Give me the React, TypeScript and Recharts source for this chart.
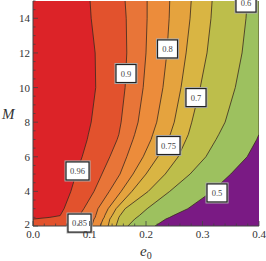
import React from 'react';
import { ComposedChart, Area, XAxis, YAxis, ReferenceArea, ReferenceDot } from 'recharts';

// Mass ratio samples (y axis)
const mValues = [2, 2.4, 2.5, 2.6, 3, 4, 5, 6, 7, 7.3, 8, 10, 12, 14, 15];
// e0 position of each contour at the M samples
const c096 = [0, 0, 0.03, 0.048, 0.055, 0.067, 0.076, 0.087, 0.096, 0.098, 0.103, 0.111, 0.110, 0.103, 0.101];
const c090 = [0.076, 0.079, 0.080, 0.082, 0.090, 0.108, 0.122, 0.136, 0.149, 0.152, 0.156, 0.163, 0.166, 0.165, 0.163];
const c085 = [0.104, 0.108, 0.110, 0.111, 0.115, 0.135, 0.154, 0.166, 0.177, 0.180, 0.186, 0.195, 0.200, 0.202, 0.202];
const c080 = [0.119, 0.124, 0.126, 0.127, 0.133, 0.156, 0.177, 0.195, 0.209, 0.212, 0.219, 0.230, 0.237, 0.241, 0.242];
const c075 = [0.133, 0.136, 0.138, 0.140, 0.147, 0.175, 0.200, 0.221, 0.239, 0.243, 0.250, 0.262, 0.271, 0.278, 0.280];
const c070 = [0.147, 0.151, 0.152, 0.154, 0.163, 0.204, 0.234, 0.257, 0.271, 0.275, 0.281, 0.296, 0.308, 0.315, 0.317];
const c060 = [0.168, 0.180, 0.184, 0.188, 0.202, 0.242, 0.278, 0.306, 0.324, 0.329, 0.340, 0.358, 0.370, 0.377, 0.379];
const c050 = [0.216, 0.235, 0.242, 0.248, 0.274, 0.317, 0.350, 0.379, 0.396, 0.4, 0.4, 0.4, 0.4, 0.4, 0.4];

const contourKeys = ['c050', 'c060', 'c070', 'c075', 'c080', 'c085', 'c090', 'c096'];
const contourFills = ['#9dc15f', '#bdbe4b', '#d9b543', '#e5a33e', '#ec8c3b', '#e87538', '#e2522d', '#dc2328'];

const xMajor = [0, 0.1, 0.2, 0.3, 0.4];
const xTicks = [0, 0.02, 0.04, 0.06, 0.08, 0.1, 0.12, 0.14, 0.16, 0.18, 0.2, 0.22, 0.24, 0.26, 0.28, 0.3, 0.32, 0.34, 0.36, 0.38, 0.4];
const yMajor = [2, 4, 6, 8, 10, 12, 14];
const yTicks = [2, 2.5, 3, 3.5, 4, 4.5, 5, 5.5, 6, 6.5, 7, 7.5, 8, 8.5, 9, 9.5, 10, 10.5, 11, 11.5, 12, 12.5, 13, 13.5, 14, 14.5, 15];

const labelTexts = ['0.96', '0.9', '0.85', '0.8', '0.75', '0.7', '0.6', '0.5'];
const labelE0 = [0.0788, 0.1646, 0.0823, 0.2381, 0.2398, 0.2885, 0.377, 0.3257];
const labelM = [5.18, 10.81, 2.17, 12.23, 6.65, 9.42, 14.88, 3.91];

const data = mValues.map((M, i) => ({
  M,
  c096: c096[i],
  c090: c090[i],
  c085: c085[i],
  c080: c080[i],
  c075: c075[i],
  c070: c070[i],
  c060: c060[i],
  c050: c050[i],
}));

const FONT = 'Liberation Serif';
const serif = { fontFamily: FONT };
const isMajor = (v: number, majors: number[]) => majors.some((m) => Math.abs(m - v) < 1e-9);

const BottomTick = (props: any) => {
  const { x, y, payload } = props;
  const major = isMajor(payload.value, xMajor);
  return (
    <g>
      <line x1={x} x2={x} y1={y} y2={y - (major ? 5 : 2.5)} stroke="#444" strokeWidth={0.8} />
      {major && (
        <text x={x} y={y + 11.5} textAnchor="middle" style={serif} fontSize={11} fill="#333">
          {payload.value.toFixed(1)}
        </text>
      )}
    </g>
  );
};
const TopTick = (props: any) => {
  const { x, y, payload } = props;
  const major = isMajor(payload.value, xMajor);
  return <line x1={x} x2={x} y1={y} y2={y + (major ? 5 : 2.5)} stroke="#444" strokeWidth={0.8} />;
};
const LeftTick = (props: any) => {
  const { x, y, payload } = props;
  const major = isMajor(payload.value, yMajor);
  const dy = payload.value === 2 ? 2 : 4;
  return (
    <g>
      <line x1={x} x2={x + (major ? 5 : 2.5)} y1={y} y2={y} stroke="#444" strokeWidth={0.8} />
      {major && (
        <text x={x - 3} y={y + dy} textAnchor="end" style={serif} fontSize={11} fill="#333">
          {payload.value}
        </text>
      )}
    </g>
  );
};
const RightTick = (props: any) => {
  const { x, y, payload } = props;
  const major = isMajor(payload.value, yMajor);
  return <line x1={x} x2={x - (major ? 5 : 2.5)} y1={y} y2={y} stroke="#444" strokeWidth={0.8} />;
};

const makeLabelShape = (text: string) => (props: any) => {
  const { cx, cy } = props;
  const w = text.length >= 4 ? 23 : 20;
  const h = 18;
  return (
    <g>
      <rect x={cx - w / 2} y={cy - h / 2} width={w} height={h} fill="#fff" stroke="#b0b0b0" strokeWidth={3} />
      <rect x={cx - w / 2} y={cy - h / 2} width={w} height={h} fill="#fff" stroke="#222" strokeWidth={1.2} />
      <text x={cx} y={cy + 3} textAnchor="middle" style={serif} fontSize={8.5} fill="#444">
        {text}
      </text>
    </g>
  );
};

export default function App() {
  return (
    <div style={{ position: 'absolute', left: 0, top: 0 }}>
      <ComposedChart
        width={266}
        height={261}
        data={data}
        layout="vertical"
        margin={{ top: 1, right: 7, bottom: 15, left: 0 }}
      >
        <XAxis
          xAxisId="b"
          type="number"
          domain={[0, 0.4]}
          allowDataOverflow
          ticks={xTicks}
          interval={0}
          tickLine={false}
          tickSize={0}
          tickMargin={0}
          tick={BottomTick}
          axisLine={{ stroke: '#444' }}
          height={20}
          label={{
            value: 'e0',
            content: (p: any) => {
              const vb = p.viewBox || { x: 33, y: 226, width: 226 };
              return (
                <text x={vb.x + vb.width / 2 - 6} y={256} style={serif} fill="#333">
                  <tspan fontSize={15} fontStyle="italic">e</tspan>
                  <tspan fontSize={10} dy={2.5}>0</tspan>
                </text>
              );
            },
          }}
        />
        <XAxis
          xAxisId="t"
          orientation="top"
          type="number"
          domain={[0, 0.4]}
          allowDataOverflow
          ticks={xTicks}
          interval={0}
          tickLine={false}
          tickSize={0}
          tickMargin={0}
          tick={TopTick}
          axisLine={{ stroke: '#333', strokeWidth: 1.5 }}
          height={0}
        />
        <YAxis
          yAxisId="l"
          dataKey="M"
          type="number"
          domain={[2, 15]}
          reversed
          allowDataOverflow
          ticks={yTicks}
          interval={0}
          tickLine={false}
          tickSize={0}
          tickMargin={0}
          tick={LeftTick}
          axisLine={{ stroke: '#444' }}
          width={33}
          label={{
            value: 'M',
            content: (p: any) => {
              const vb = p.viewBox || { x: 0, y: 1, height: 225 };
              return (
                <text x={2} y={vb.y + vb.height / 2 + 5} style={serif} fontSize={15} fontStyle="italic" fill="#333">
                  M
                </text>
              );
            },
          }}
        />
        <YAxis
          yAxisId="r"
          orientation="right"
          type="number"
          domain={[2, 15]}
          reversed
          allowDataOverflow
          ticks={yTicks}
          interval={0}
          tickLine={false}
          tickSize={0}
          tickMargin={0}
          tick={RightTick}
          axisLine={{ stroke: '#444' }}
          width={0}
        />
        <ReferenceArea
          xAxisId="b"
          yAxisId="l"
          x1={0}
          x2={0.4}
          y1={2}
          y2={15}
          fill="#7a1a84"
          fillOpacity={1}
          stroke="none"
        />
        {contourKeys.map((k, i) => (
          <Area
            key={k}
            xAxisId="b"
            yAxisId="l"
            dataKey={k}
            type="linear"
            fill={contourFills[i]}
            fillOpacity={1}
            stroke="#3a2a20"
            strokeWidth={0.8}
            isAnimationActive={false}
            dot={false}
            activeDot={false}
          />
        ))}
        {labelTexts.map((t, i) => (
          <ReferenceDot
            key={t}
            xAxisId="b"
            yAxisId="l"
            x={labelE0[i]}
            y={labelM[i]}
            ifOverflow="hidden"
            shape={makeLabelShape(t)}
          />
        ))}
      </ComposedChart>
    </div>
  );
}
